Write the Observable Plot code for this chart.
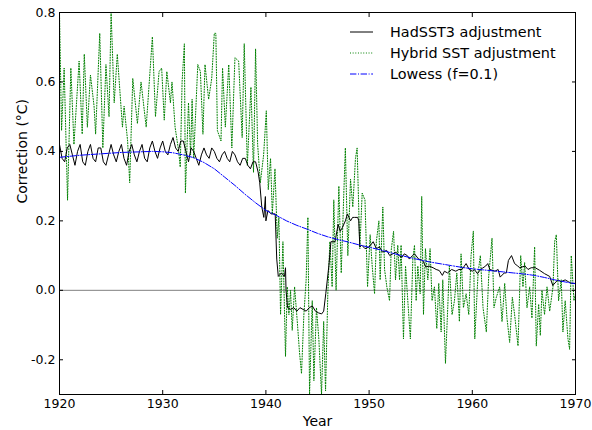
<!DOCTYPE html>
<html>
<head>
<meta charset="utf-8">
<script src="https://cdn.jsdelivr.net/npm/d3@7"></script>
<script src="https://cdn.jsdelivr.net/npm/@observablehq/plot@0.6"></script>
<style>
  html, body { margin: 0; padding: 0; background: #fff; }
  #chart svg { display: block; }
</style>
</head>
<body>
<div id="chart"></div>
<script>
// ---- Data ----
const seriesNames = ["HadSST3 adjustment", "Hybrid SST adjustment", "Lowess (f=0.1)"];
const xTicks = [1920, 1930, 1940, 1950, 1960, 1970];
const yTicks = [-0.2, 0.0, 0.2, 0.4, 0.6, 0.8];
const xLabel = "Year";
const yLabel = "Correction (°C)";

// HadSST3 adjustment: [year, correction]
const hadsst3 = [
  [1920.0,0.42],[1920.25,0.38],[1920.5,0.37],[1920.75,0.41],
  [1921.0,0.42],[1921.25,0.39],[1921.5,0.36],[1921.75,0.40],
  [1922.0,0.42],[1922.25,0.37],[1922.5,0.36],[1922.75,0.40],
  [1923.0,0.42],[1923.25,0.38],[1923.5,0.37],[1923.75,0.41],
  [1924.0,0.41],[1924.25,0.37],[1924.5,0.36],[1924.75,0.39],
  [1925.0,0.42],[1925.25,0.39],[1925.5,0.37],[1925.75,0.40],
  [1926.0,0.42],[1926.25,0.38],[1926.5,0.36],[1926.75,0.40],
  [1927.0,0.42],[1927.25,0.39],[1927.5,0.37],[1927.75,0.40],
  [1928.0,0.42],[1928.25,0.38],[1928.5,0.37],[1928.75,0.41],
  [1929.0,0.43],[1929.25,0.40],[1929.5,0.38],[1929.75,0.41],
  [1930.0,0.43],[1930.25,0.40],[1930.5,0.39],[1930.75,0.42],
  [1931.0,0.44],[1931.25,0.41],[1931.5,0.40],[1931.75,0.43],
  [1932.0,0.43],[1932.25,0.40],[1932.5,0.37],[1932.75,0.41],
  [1933.0,0.40],[1933.25,0.38],[1933.5,0.36],[1933.75,0.39],
  [1934.0,0.41],[1934.25,0.39],[1934.5,0.38],[1934.75,0.41],
  [1935.0,0.40],[1935.25,0.38],[1935.5,0.37],[1935.75,0.39],
  [1936.0,0.40],[1936.25,0.38],[1936.5,0.37],[1936.75,0.40],
  [1937.0,0.39],[1937.25,0.37],[1937.5,0.36],[1937.75,0.38],
  [1938.0,0.38],[1938.25,0.36],[1938.5,0.35],[1938.75,0.37],
  [1939.0,0.37],[1939.25,0.34],[1939.4,0.31],[1939.6,0.24],[1939.8,0.21],
  [1939.95,0.27],[1940.0,0.20],[1940.2,0.23],[1940.5,0.22],[1940.9,0.22],
  [1941.05,0.09],[1941.2,0.04],[1941.5,0.05],[1941.8,0.04],[1941.9,0.065],
  [1941.95,0.0],[1942.1,-0.05],[1942.4,-0.055],[1942.7,-0.05],[1943.0,-0.06],
  [1943.3,-0.05],[1943.6,-0.055],[1943.9,-0.06],[1944.2,-0.05],[1944.5,-0.045],
  [1944.8,-0.06],[1945.1,-0.065],[1945.4,-0.068],[1945.6,-0.06],[1945.8,-0.01],
  [1946.1,0.07],[1946.3,0.14],[1946.7,0.14],[1947.0,0.19],[1947.2,0.17],
  [1947.4,0.18],[1947.7,0.20],[1947.9,0.22],[1948.2,0.20],[1948.4,0.21],
  [1948.6,0.21],[1948.9,0.21],[1949.0,0.20],[1949.1,0.125],[1949.3,0.13],
  [1949.6,0.12],[1950.0,0.125],[1950.4,0.14],[1950.7,0.12],[1951.0,0.125],
  [1951.3,0.11],[1951.7,0.115],[1952.0,0.10],[1952.3,0.105],[1952.6,0.11],
  [1952.9,0.10],[1953.2,0.095],[1953.4,0.105],[1953.7,0.10],[1953.9,0.09],
  [1954.2,0.10],[1954.4,0.105],[1954.8,0.09],[1955.2,0.086],[1955.5,0.067],
  [1955.8,0.07],[1956.2,0.065],[1956.5,0.06],[1956.8,0.057],[1957.1,0.043],
  [1957.3,0.055],[1957.6,0.05],[1958.0,0.06],[1958.4,0.055],[1958.7,0.06],
  [1959.0,0.06],[1959.4,0.077],[1959.7,0.06],[1960.0,0.055],[1960.2,0.06],
  [1960.5,0.048],[1960.8,0.06],[1961.0,0.064],[1961.3,0.07],[1961.5,0.077],
  [1961.7,0.06],[1962.2,0.055],[1962.5,0.06],[1962.7,0.038],[1963.1,0.05],
  [1963.3,0.05],[1963.5,0.086],[1963.8,0.10],[1964.1,0.077],[1964.4,0.07],
  [1964.6,0.065],[1965.1,0.07],[1965.4,0.06],[1965.7,0.065],[1966.1,0.065],
  [1966.5,0.058],[1967.0,0.048],[1967.5,0.04],[1967.8,0.014],[1968.1,0.024],
  [1968.3,0.03],[1968.6,0.025],[1969.0,0.03],[1969.3,0.025],[1969.6,0.02],
  [1969.8,0.02],[1970.0,0.02]
];

// Hybrid SST adjustment: [year, correction]
const hybrid = [
  [1920.0,0.80],[1920.2,0.46],[1920.45,0.64],[1920.78,0.26],[1921.1,0.64],
  [1921.4,0.42],[1921.9,0.66],[1922.2,0.45],[1922.4,0.68],[1922.7,0.47],
  [1923.0,0.62],[1923.35,0.53],[1923.5,0.45],[1923.9,0.74],[1924.2,0.41],
  [1924.5,0.65],[1924.8,0.50],[1925.0,0.80],[1925.3,0.54],[1925.6,0.68],
  [1926.1,0.47],[1926.26,0.53],[1926.6,0.43],[1926.8,0.31],[1927.1,0.61],
  [1927.55,0.48],[1927.9,0.60],[1928.4,0.47],[1929.0,0.73],[1929.3,0.50],
  [1929.65,0.63],[1929.9,0.64],[1930.15,0.49],[1930.4,0.63],[1930.75,0.54],
  [1930.9,0.60],[1931.2,0.47],[1931.55,0.40],[1931.7,0.355],[1931.88,0.60],
  [1932.1,0.71],[1932.2,0.28],[1932.5,0.54],[1932.7,0.39],[1932.85,0.55],
  [1933.0,0.38],[1933.4,0.65],[1933.65,0.63],[1933.9,0.45],[1934.1,0.65],
  [1934.45,0.55],[1934.75,0.61],[1935.0,0.74],[1935.15,0.74],[1935.3,0.46],
  [1935.65,0.43],[1935.8,0.64],[1936.07,0.47],[1936.4,0.65],[1936.7,0.41],
  [1937.0,0.67],[1937.36,0.66],[1937.7,0.44],[1937.9,0.71],[1938.2,0.36],
  [1938.55,0.585],[1938.8,0.34],[1939.0,0.695],[1939.2,0.42],[1939.46,0.31],
  [1939.78,0.39],[1940.04,0.517],[1940.23,0.29],[1940.45,0.38],[1940.62,0.22],
  [1940.88,0.35],[1941.1,0.15],[1941.26,0.21],[1941.42,-0.07],[1941.65,0.14],
  [1941.9,-0.19],[1942.07,0.01],[1942.23,-0.07],[1942.39,0.0],[1942.55,-0.115],
  [1942.78,0.01],[1943.04,-0.09],[1943.26,-0.18],[1943.45,-0.24],[1943.68,-0.07],
  [1943.9,0.03],[1944.07,0.21],[1944.23,-0.30],[1944.49,-0.03],[1944.65,-0.26],
  [1944.9,-0.05],[1945.13,-0.14],[1945.39,-0.30],[1945.6,-0.09],[1945.78,-0.29],
  [1946.0,-0.01],[1946.2,0.14],[1946.42,0.01],[1946.58,0.26],[1946.8,0.0],
  [1947.07,0.30],[1947.3,0.05],[1947.55,0.28],[1947.7,0.41],[1947.94,0.10],
  [1948.2,0.32],[1948.42,0.24],[1948.68,0.38],[1948.84,0.41],[1949.1,0.12],
  [1949.33,0.28],[1949.6,0.26],[1949.85,0.01],[1950.1,0.16],[1950.3,0.07],
  [1950.53,-0.01],[1950.7,0.14],[1950.95,0.20],[1951.07,0.03],[1951.33,0.24],
  [1951.5,0.06],[1951.72,0.01],[1951.98,-0.03],[1952.14,0.115],[1952.37,0.17],
  [1952.56,0.03],[1952.78,0.13],[1952.95,0.03],[1953.1,0.13],[1953.33,-0.14],
  [1953.53,0.07],[1953.75,-0.03],[1954.0,-0.14],[1954.24,0.09],[1954.4,0.13],
  [1954.56,-0.03],[1954.72,0.07],[1954.95,-0.01],[1955.1,0.27],[1955.27,-0.07],
  [1955.46,0.12],[1955.69,0.03],[1955.91,0.12],[1956.1,-0.03],[1956.33,0.01],
  [1956.56,-0.11],[1956.75,0.02],[1956.98,-0.12],[1957.14,0.03],[1957.4,-0.21],
  [1957.62,-0.05],[1957.78,0.07],[1958.04,-0.07],[1958.27,-0.03],[1958.5,0.05],
  [1958.75,-0.09],[1958.91,0.105],[1959.14,-0.05],[1959.4,-0.01],[1959.66,-0.07],
  [1959.88,0.10],[1960.1,0.17],[1960.24,-0.14],[1960.56,0.05],[1960.78,0.10],
  [1961.04,-0.05],[1961.36,-0.12],[1961.59,0.04],[1961.91,0.15],[1962.1,-0.05],
  [1962.33,-0.02],[1962.65,0.01],[1962.88,-0.09],[1963.14,0.02],[1963.36,-0.08],
  [1963.62,-0.15],[1963.88,-0.02],[1964.1,-0.07],[1964.43,-0.16],[1964.69,0.10],
  [1964.91,0.01],[1965.07,0.08],[1965.3,-0.05],[1965.56,0.01],[1965.78,-0.08],
  [1966.04,0.125],[1966.2,-0.16],[1966.43,-0.04],[1966.59,-0.13],[1966.75,0.0],
  [1967.0,-0.07],[1967.24,0.01],[1967.5,-0.06],[1967.82,0.01],[1967.98,0.14],
  [1968.14,0.16],[1968.36,-0.03],[1968.62,0.03],[1968.78,-0.12],[1969.0,-0.03],
  [1969.27,-0.14],[1969.43,-0.17],[1969.59,0.10],[1969.85,-0.03],[1970.0,-0.01]
];

// Lowess (f=0.1): [year, correction]
const lowess = [
  [1920,0.383],[1921,0.386],[1922,0.389],[1923,0.391],[1924,0.393],[1925,0.395],
  [1926,0.397],[1927,0.398],[1928,0.399],[1929,0.400],[1930,0.399],[1931,0.396],
  [1932,0.390],[1933,0.382],[1934,0.368],[1935,0.350],[1936,0.326],[1937,0.302],
  [1938,0.276],[1939,0.252],[1940,0.230],[1941,0.216],[1942,0.200],[1943,0.187],
  [1944,0.176],[1945,0.164],[1946,0.154],[1947,0.146],[1948,0.139],[1949,0.131],
  [1950,0.124],[1951,0.117],[1952,0.109],[1953,0.101],[1954,0.094],[1955,0.087],
  [1956,0.081],[1957,0.076],[1958,0.071],[1959,0.066],[1960,0.062],[1961,0.059],
  [1962,0.056],[1963,0.053],[1964,0.050],[1965,0.047],[1966,0.043],[1967,0.037],
  [1968,0.030],[1969,0.024],[1970,0.019]
];

const colors = ["#000000", "#008000", "#0000ff"];
const dashes = [null, "1,1.65", "6.4,1.6,1,1.6"];

const font = "'DejaVu Sans', sans-serif";

const chart = Plot.plot({
  width: 592,
  height: 430,
  marginTop: 12,
  marginRight: 17,
  marginBottom: 36,
  marginLeft: 59,
  style: { fontFamily: font, fontSize: "12px", color: "#000", background: "#fff" },
  x: { domain: [1920, 1970] },
  y: { domain: [-0.3, 0.8] },
  marks: [
    Plot.ruleY([0], { stroke: "#808080", strokeWidth: 1 }),
    Plot.line(hybrid, { x: d => d[0], y: d => d[1], stroke: colors[1], strokeWidth: 1, strokeDasharray: dashes[1], clip: true }),
    Plot.line(hadsst3, { x: d => d[0], y: d => d[1], stroke: colors[0], strokeWidth: 1, clip: true }),
    Plot.line(lowess, { x: d => d[0], y: d => d[1], stroke: colors[2], strokeWidth: 1, strokeDasharray: dashes[2], clip: true }),
    Plot.axisX(xTicks, { anchor: "bottom", tickSize: -4, tickPadding: 9, tickFormat: d => String(d), label: null, fontSize: 12.5 }),
    Plot.axisX(xTicks, { anchor: "top", tickSize: -4, tickFormat: () => "", label: null }),
    Plot.axisY(yTicks, { anchor: "left", tickSize: -4, tickPadding: 8, tickFormat: d => d3.format(".1f")(d).replace("−", "-"), label: null, fontSize: 12.5 }),
    Plot.axisY(yTicks, { anchor: "right", tickSize: -4, tickFormat: () => "", label: null }),
    Plot.text([xLabel], { frameAnchor: "bottom", dy: 27, text: d => d, fontSize: 14, lineAnchor: "middle", fill: "#000" }),
    Plot.text([yLabel], { frameAnchor: "left", dx: -37, rotate: -90, text: d => d, fontSize: 14, lineAnchor: "middle", fill: "#000" }),
    Plot.frame({ stroke: "#000", strokeWidth: 1 })
  ]
});

// Legend inside the plot, upper right
const svg = d3.select(chart);
const leg = svg.append("g")
  .attr("font-family", font)
  .attr("font-size", 14.4)
  .attr("text-anchor", "start");
seriesNames.forEach((name, i) => {
  const yy = 32 + i * 21;
  leg.append("line")
    .attr("x1", 350).attr("x2", 373).attr("y1", yy).attr("y2", yy)
    .attr("stroke", colors[i]).attr("stroke-width", 1)
    .attr("stroke-dasharray", dashes[i]);
  leg.append("text")
    .attr("x", 390).attr("y", yy).attr("dy", "0.35em")
    .attr("text-anchor", "start")
    .attr("fill", "#000").text(name);
});

document.getElementById("chart").appendChild(chart);
</script>
</body>
</html>
